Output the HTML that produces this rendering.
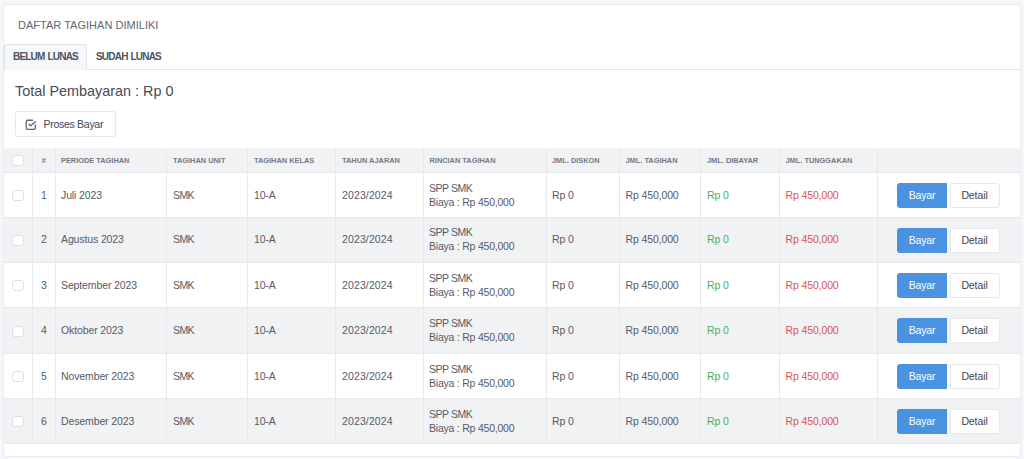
<!DOCTYPE html><html><head><meta charset="utf-8"><style>
*{margin:0;padding:0;box-sizing:border-box}
html,body{width:1024px;height:459px;overflow:hidden;background:#f5f7fb;font-family:"Liberation Sans",sans-serif;color:#495057}
.abs{position:absolute}
.card{position:absolute;left:3px;top:4px;width:1018px;height:453px;background:#fff;border:1px solid #e8eaee;border-radius:3px}
.title{position:absolute;left:18px;top:18px;font-size:11px;line-height:14px;color:#5f6673;white-space:nowrap;letter-spacing:0.02px}
.tab{position:absolute;top:44px;height:26px;font-size:10px;font-weight:bold;line-height:23px;color:#4d5361;white-space:nowrap;letter-spacing:-0.8px;word-spacing:1px}
.tab.active{left:4px;width:83px;background:#f5f7fb;border:1px solid #dfe4ec;border-bottom:none;border-radius:3px 3px 0 0}
.tabline{position:absolute;left:86px;top:69px;width:934px;height:1px;background:#dfe4ec}
.total{position:absolute;left:15px;top:82px;font-size:14.4px;line-height:18px;color:#454a56;white-space:nowrap}
.btn{position:absolute;left:15px;top:111px;width:101px;height:26px;border:1px solid #e3e6eb;border-radius:3px;background:#fff}
.btn span{position:absolute;left:27.5px;top:5px;font-size:10.6px;line-height:14px;color:#3f4552;white-space:nowrap;letter-spacing:-0.33px}
.hline{position:absolute;height:1px;background:#e6e8eb}
.vline{position:absolute;width:1px;background:#e6e8eb}
.hbg{position:absolute;background:#f1f2f4}
.th{position:absolute;font-size:7.4px;font-weight:bold;color:#737985;white-space:nowrap;line-height:10px}
.td{position:absolute;font-size:10.5px;color:#555b67;white-space:nowrap;line-height:14px;letter-spacing:-0.12px}
.cb{position:absolute;width:11.5px;height:11px;border:1px solid #dcdfe4;border-radius:3px;background:#fff}
.green{color:#4cae58}
.red{color:#d9534f}
.bayar{position:absolute;width:50px;height:25px;background:#4b93e0;border-radius:3px 0 0 3px;color:#fff;font-size:10.5px;line-height:25px;text-align:center;letter-spacing:-0.2px}
.detail{position:absolute;width:50px;height:25px;background:#fff;border:1px solid #e6e8ec;border-radius:0 3px 3px 0;color:#3f4552;font-size:10.5px;line-height:23px;text-align:center;letter-spacing:-0.1px}
</style></head><body>
<div class="card"></div>
<div class="title">DAFTAR TAGIHAN DIMILIKI</div>
<div class="tab active"><span style="position:absolute;left:8px;top:0">BELUM LUNAS</span></div>
<div class="tab" style="left:96px;top:45px">SUDAH LUNAS</div>
<div class="tabline"></div>
<div class="total">Total Pembayaran : Rp 0</div>
<div class="btn"><svg class="abs" style="left:8.2px;top:5.9px" width="13.6" height="13.6" viewBox="0 0 24 24" fill="none" stroke="#626773" stroke-width="2.3" stroke-linecap="round" stroke-linejoin="round"><polyline points="9 11 11.8 13.8 20 6.5"/><path d="M20 12v6a2 2 0 0 1 -2 2h-12a2 2 0 0 1 -2 -2v-12a2 2 0 0 1 2 -2h9"/></svg><span>Proses Bayar</span></div>
<div class="hbg" style="left:4px;top:148px;width:1016px;height:24px"></div>
<div class="hline" style="left:4px;top:172px;width:1016px"></div>
<div class="hline" style="left:4px;top:217px;width:1016px"></div>
<div class="hbg" style="left:4px;top:218px;width:1016px;height:44px"></div>
<div class="hline" style="left:4px;top:262px;width:1016px"></div>
<div class="hline" style="left:4px;top:307px;width:1016px"></div>
<div class="hbg" style="left:4px;top:308px;width:1016px;height:45px"></div>
<div class="hline" style="left:4px;top:353px;width:1016px"></div>
<div class="hline" style="left:4px;top:398px;width:1016px"></div>
<div class="hbg" style="left:4px;top:399px;width:1016px;height:44px"></div>
<div class="hline" style="left:4px;top:443px;width:1016px"></div>
<div class="vline" style="left:32px;top:148px;height:296px"></div>
<div class="vline" style="left:55px;top:148px;height:296px"></div>
<div class="vline" style="left:166px;top:148px;height:296px"></div>
<div class="vline" style="left:247px;top:148px;height:296px"></div>
<div class="vline" style="left:335px;top:148px;height:296px"></div>
<div class="vline" style="left:423px;top:148px;height:296px"></div>
<div class="vline" style="left:546px;top:148px;height:296px"></div>
<div class="vline" style="left:619px;top:148px;height:296px"></div>
<div class="vline" style="left:700px;top:148px;height:296px"></div>
<div class="vline" style="left:779px;top:148px;height:296px"></div>
<div class="vline" style="left:877px;top:148px;height:296px"></div>
<div class="cb" style="left:12px;top:155.3px"></div>
<div class="th" style="left:41.7px;top:155.5px">#</div>
<div class="th" style="left:61px;top:155.5px">PERIODE TAGIHAN</div>
<div class="th" style="left:173px;top:155.5px">TAGIHAN UNIT</div>
<div class="th" style="left:254px;top:155.5px">TAGIHAN KELAS</div>
<div class="th" style="left:342px;top:155.5px">TAHUN AJARAN</div>
<div class="th" style="left:429.5px;top:155.5px">RINCIAN TAGIHAN</div>
<div class="th" style="left:552px;top:155.5px">JML. DISKON</div>
<div class="th" style="left:625.5px;top:155.5px">JML. TAGIHAN</div>
<div class="th" style="left:707px;top:155.5px">JML. DIBAYAR</div>
<div class="th" style="left:785.5px;top:155.5px">JML. TUNGGAKAN</div>
<div class="cb" style="left:12px;top:190.0px"></div>
<div class="td" style="left:41px;top:188.0px">1</div>
<div class="td" style="left:61px;top:188.0px">Juli 2023</div>
<div class="td" style="left:173px;top:188.0px;letter-spacing:-0.6px">SMK</div>
<div class="td" style="left:254px;top:188.0px">10-A</div>
<div class="td" style="left:342px;top:188.0px;letter-spacing:0.12px">2023/2024</div>
<div class="td" style="left:429px;top:181.0px;letter-spacing:-0.45px">SPP SMK</div>
<div class="td" style="left:429px;top:195.0px;letter-spacing:-0.22px">Biaya : Rp 450,000</div>
<div class="td" style="left:552px;top:188.0px">Rp 0</div>
<div class="td" style="left:625.5px;top:188.0px">Rp 450,000</div>
<div class="td green" style="left:707px;top:188.0px">Rp 0</div>
<div class="td red" style="left:785.5px;top:188.0px">Rp 450,000</div>
<div class="bayar" style="left:897px;top:183px">Bayar</div>
<div class="detail" style="left:949.5px;top:183px">Detail</div>
<div class="cb" style="left:12px;top:235.0px"></div>
<div class="td" style="left:41px;top:232.0px">2</div>
<div class="td" style="left:61px;top:232.0px">Agustus 2023</div>
<div class="td" style="left:173px;top:232.0px;letter-spacing:-0.6px">SMK</div>
<div class="td" style="left:254px;top:232.0px">10-A</div>
<div class="td" style="left:342px;top:232.0px;letter-spacing:0.12px">2023/2024</div>
<div class="td" style="left:429px;top:225.0px;letter-spacing:-0.45px">SPP SMK</div>
<div class="td" style="left:429px;top:239.0px;letter-spacing:-0.22px">Biaya : Rp 450,000</div>
<div class="td" style="left:552px;top:232.0px">Rp 0</div>
<div class="td" style="left:625.5px;top:232.0px">Rp 450,000</div>
<div class="td green" style="left:707px;top:232.0px">Rp 0</div>
<div class="td red" style="left:785.5px;top:232.0px">Rp 450,000</div>
<div class="bayar" style="left:897px;top:228px">Bayar</div>
<div class="detail" style="left:949.5px;top:228px">Detail</div>
<div class="cb" style="left:12px;top:280.0px"></div>
<div class="td" style="left:41px;top:277.5px">3</div>
<div class="td" style="left:61px;top:277.5px">September 2023</div>
<div class="td" style="left:173px;top:277.5px;letter-spacing:-0.6px">SMK</div>
<div class="td" style="left:254px;top:277.5px">10-A</div>
<div class="td" style="left:342px;top:277.5px;letter-spacing:0.12px">2023/2024</div>
<div class="td" style="left:429px;top:270.5px;letter-spacing:-0.45px">SPP SMK</div>
<div class="td" style="left:429px;top:284.5px;letter-spacing:-0.22px">Biaya : Rp 450,000</div>
<div class="td" style="left:552px;top:277.5px">Rp 0</div>
<div class="td" style="left:625.5px;top:277.5px">Rp 450,000</div>
<div class="td green" style="left:707px;top:277.5px">Rp 0</div>
<div class="td red" style="left:785.5px;top:277.5px">Rp 450,000</div>
<div class="bayar" style="left:897px;top:273px">Bayar</div>
<div class="detail" style="left:949.5px;top:273px">Detail</div>
<div class="cb" style="left:12px;top:325.5px"></div>
<div class="td" style="left:41px;top:322.5px">4</div>
<div class="td" style="left:61px;top:322.5px">Oktober 2023</div>
<div class="td" style="left:173px;top:322.5px;letter-spacing:-0.6px">SMK</div>
<div class="td" style="left:254px;top:322.5px">10-A</div>
<div class="td" style="left:342px;top:322.5px;letter-spacing:0.12px">2023/2024</div>
<div class="td" style="left:429px;top:315.5px;letter-spacing:-0.45px">SPP SMK</div>
<div class="td" style="left:429px;top:329.5px;letter-spacing:-0.22px">Biaya : Rp 450,000</div>
<div class="td" style="left:552px;top:322.5px">Rp 0</div>
<div class="td" style="left:625.5px;top:322.5px">Rp 450,000</div>
<div class="td green" style="left:707px;top:322.5px">Rp 0</div>
<div class="td red" style="left:785.5px;top:322.5px">Rp 450,000</div>
<div class="bayar" style="left:897px;top:318px">Bayar</div>
<div class="detail" style="left:949.5px;top:318px">Detail</div>
<div class="cb" style="left:12px;top:371.0px"></div>
<div class="td" style="left:41px;top:369.0px">5</div>
<div class="td" style="left:61px;top:369.0px">November 2023</div>
<div class="td" style="left:173px;top:369.0px;letter-spacing:-0.6px">SMK</div>
<div class="td" style="left:254px;top:369.0px">10-A</div>
<div class="td" style="left:342px;top:369.0px;letter-spacing:0.12px">2023/2024</div>
<div class="td" style="left:429px;top:362.0px;letter-spacing:-0.45px">SPP SMK</div>
<div class="td" style="left:429px;top:376.0px;letter-spacing:-0.22px">Biaya : Rp 450,000</div>
<div class="td" style="left:552px;top:369.0px">Rp 0</div>
<div class="td" style="left:625.5px;top:369.0px">Rp 450,000</div>
<div class="td green" style="left:707px;top:369.0px">Rp 0</div>
<div class="td red" style="left:785.5px;top:369.0px">Rp 450,000</div>
<div class="bayar" style="left:897px;top:364px">Bayar</div>
<div class="detail" style="left:949.5px;top:364px">Detail</div>
<div class="cb" style="left:12px;top:416.0px"></div>
<div class="td" style="left:41px;top:414.0px">6</div>
<div class="td" style="left:61px;top:414.0px">Desember 2023</div>
<div class="td" style="left:173px;top:414.0px;letter-spacing:-0.6px">SMK</div>
<div class="td" style="left:254px;top:414.0px">10-A</div>
<div class="td" style="left:342px;top:414.0px;letter-spacing:0.12px">2023/2024</div>
<div class="td" style="left:429px;top:407.0px;letter-spacing:-0.45px">SPP SMK</div>
<div class="td" style="left:429px;top:421.0px;letter-spacing:-0.22px">Biaya : Rp 450,000</div>
<div class="td" style="left:552px;top:414.0px">Rp 0</div>
<div class="td" style="left:625.5px;top:414.0px">Rp 450,000</div>
<div class="td green" style="left:707px;top:414.0px">Rp 0</div>
<div class="td red" style="left:785.5px;top:414.0px">Rp 450,000</div>
<div class="bayar" style="left:897px;top:409px">Bayar</div>
<div class="detail" style="left:949.5px;top:409px">Detail</div>
</body></html>
